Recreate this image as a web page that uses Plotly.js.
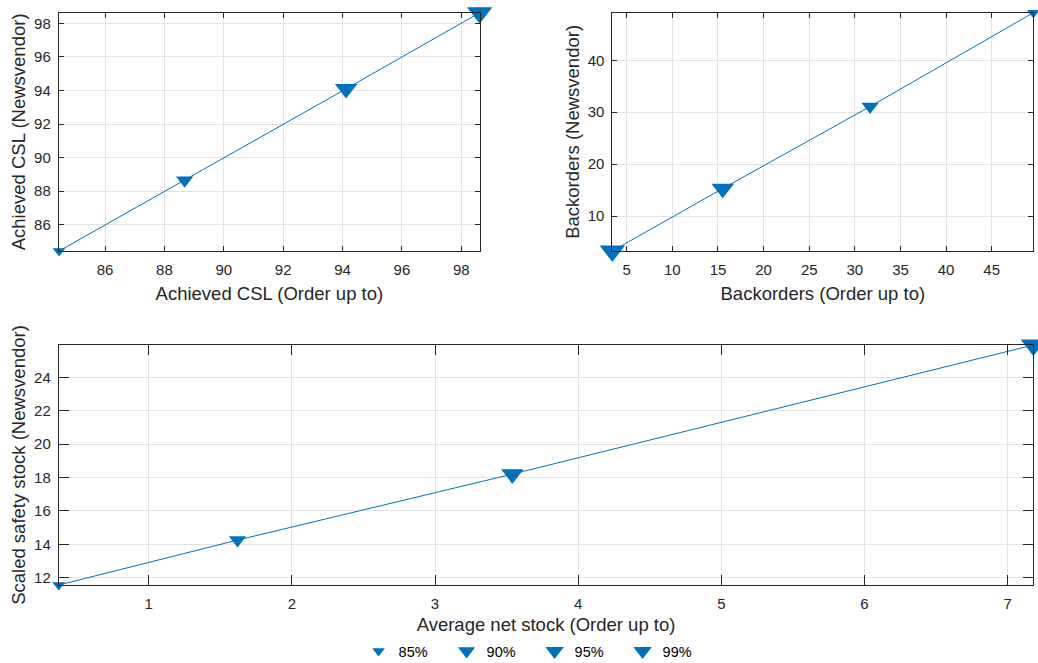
<!DOCTYPE html>
<html>
<head>
<meta charset="utf-8">
<script src="https://cdn.plot.ly/plotly-3.0.1.min.js"></script>
<style>html,body{margin:0;padding:0;background:#fff;}#chart{width:1038px;height:663px;}</style>
</head>
<body>
<div id="chart"></div>
<script>
// Service levels (legend labels)
const levels = ['85%', '90%', '95%', '99%'];
const markerSizes = [11, 15, 19.5, 22];

// Achieved CSL
const cslOrderUpTo   = [84.45, 88.68, 94.12, 98.62];
const cslNewsvendor  = [84.44, 88.66, 94.10, 98.63];

// Backorders
const boOrderUpTo    = [49.56, 31.67, 15.52, 3.42];
const boNewsvendor   = [49.17, 31.10, 15.30, 3.26];

// Average net stock vs scaled safety stock
const netStockOrderUpTo   = [0.371, 1.62, 3.54, 7.18];
const safetyNewsvendor    = [11.56, 14.25, 18.20, 25.93];

const BLUE = '#0072BD';
const TXT = '#262626';
const FONT = 'Liberation Sans, Arial, sans-serif';

const traces = [];
function addPanel(xs, ys, xa, ya, showLegend) {
  traces.push({
    x: xs, y: ys, xaxis: xa, yaxis: ya, type: 'scatter', mode: 'lines',
    line: {color: BLUE, width: 1}, showlegend: false, hoverinfo: 'skip'
  });
  levels.forEach((lv, i) => {
    traces.push({
      x: [xs[i]], y: [ys[i]], xaxis: xa, yaxis: ya, type: 'scatter', mode: 'markers',
      name: lv, legendgroup: lv, showlegend: showLegend,
      marker: {symbol: 'triangle-down', size: markerSizes[i], color: BLUE, line: {width: 0}},
      cliponaxis: false
    });
  });
}
addPanel(cslOrderUpTo, cslNewsvendor, 'x', 'y', true);
addPanel(boOrderUpTo, boNewsvendor, 'x2', 'y2', false);
addPanel(netStockOrderUpTo, safetyNewsvendor, 'x3', 'y3', false);

function ax(extra) {
  return Object.assign({
    showline: true, linecolor: TXT, linewidth: 1, mirror: 'ticks',
    ticks: 'inside', ticklen: 5, tickcolor: TXT, tickwidth: 1,
    showgrid: true, gridcolor: '#e3e3e3', gridwidth: 1,
    zeroline: false, tickfont: {family: FONT, size: 15, color: TXT},
    automargin: false
  }, extra);
}
function ttl(t, standoff) {
  return {text: t, font: {family: FONT, size: 18.5, color: TXT}, standoff: standoff};
}

const layout = {
  width: 1038, height: 663,
  margin: {l: 0, r: 0, t: 0, b: 0, autoexpand: false},
  paper_bgcolor: '#fff', plot_bgcolor: '#fff',
  font: {family: FONT, color: TXT},
  showlegend: true,
  legend: {
    orientation: 'h', xref: 'container', yref: 'container',
    x: 0.515, xanchor: 'center', y: 0.018, yanchor: 'middle',
    font: {family: FONT, size: 14.5, color: '#000'}, itemsizing: 'trace',
    entrywidth: 43, entrywidthmode: 'pixels',
    bgcolor: 'rgba(0,0,0,0)'
  },
  xaxis: ax({domain: [0.0566, 0.4624], range: [84.44, 98.63], tickvals: [86, 88, 90, 92, 94, 96, 98],
    anchor: 'y', ticklabelstandoff: 5, title: ttl('Achieved CSL (Order up to)', 10)}),
  yaxis: ax({domain: [0.6214, 0.9808], range: [84.44, 98.63], tickvals: [86, 88, 90, 92, 94, 96, 98],
    anchor: 'x', ticklabelstandoff: 4, title: ttl('Achieved CSL (Newsvendor)', 3)}),
  xaxis2: ax({domain: [0.5899, 0.9955], range: [3.42, 49.56], tickvals: [5, 10, 15, 20, 25, 30, 35, 40, 45],
    anchor: 'y2', ticklabelstandoff: 5, title: ttl('Backorders (Order up to)', 10)}),
  yaxis2: ax({domain: [0.6214, 0.9808], range: [3.26, 49.17], tickvals: [10, 20, 30, 40],
    anchor: 'x2', ticklabelstandoff: 4, title: ttl('Backorders (Newsvendor)', 3)}),
  xaxis3: ax({domain: [0.0566, 0.9955], range: [0.371, 7.18], tickvals: [1, 2, 3, 4, 5, 6, 7], ticklen: 10,
    anchor: 'y3', ticklabelstandoff: 5, title: ttl('Average net stock (Order up to)', 10)}),
  yaxis3: ax({domain: [0.1176, 0.4796], range: [11.56, 25.93], tickvals: [12, 14, 16, 18, 20, 22, 24], ticklen: 10,
    anchor: 'x3', ticklabelstandoff: 4, title: ttl('Scaled safety stock (Newsvendor)', 3)})
};

Plotly.newPlot('chart', traces, layout, {displayModeBar: false, staticPlot: true});
</script>
</body>
</html>
